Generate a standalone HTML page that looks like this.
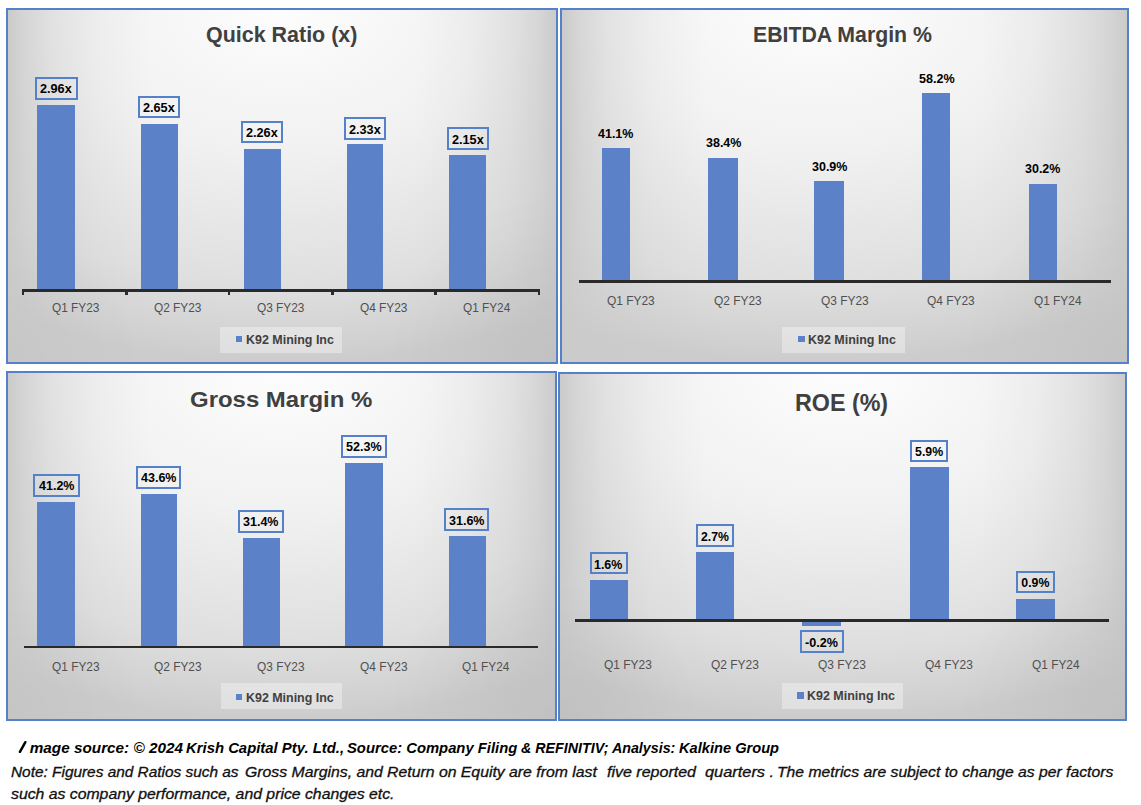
<!DOCTYPE html>
<html><head><meta charset="utf-8"><style>
html,body{margin:0;padding:0;background:#fff;width:1141px;height:805px;overflow:hidden;}
body{position:relative;font-family:"Liberation Sans",sans-serif;}
.p{position:absolute;box-sizing:border-box;border:2px solid #5580CA;}
.r{position:absolute;}
.t{position:absolute;white-space:nowrap;transform-origin:0 0;}
</style></head><body>
<div class="p" style="left:6px;top:8px;width:552px;height:356px;background:radial-gradient(circle 170px at 100% 100%, rgba(0,0,0,0.05), rgba(0,0,0,0)),radial-gradient(circle 140px at 0% 100%, rgba(0,0,0,0.025), rgba(0,0,0,0)),linear-gradient(to right,rgba(203,203,203,1) 0%,rgba(203,203,203,0.7) 3%,rgba(203,203,203,0.4) 8%,rgba(203,203,203,0.15) 16%,rgba(203,203,203,0) 26%,rgba(203,203,203,0) 74%,rgba(203,203,203,0.15) 84%,rgba(203,203,203,0.4) 92%,rgba(203,203,203,0.7) 97%,rgba(203,203,203,1) 100%),radial-gradient(ellipse 100% 100% at 50% 0%, #fdfdfd 0%, #f1f1f1 40%, #dfdfdf 78%, #d1d1d1 95%, #cccccc 100%)"></div>
<div class="p" style="left:560px;top:8px;width:569px;height:356px;background:radial-gradient(circle 170px at 100% 100%, rgba(0,0,0,0.04), rgba(0,0,0,0)),radial-gradient(circle 140px at 0% 100%, rgba(0,0,0,0.0), rgba(0,0,0,0)),linear-gradient(to right,rgba(203,203,203,1) 0%,rgba(203,203,203,0.7) 3%,rgba(203,203,203,0.4) 8%,rgba(203,203,203,0.15) 16%,rgba(203,203,203,0) 26%,rgba(203,203,203,0) 74%,rgba(203,203,203,0.15) 84%,rgba(203,203,203,0.4) 92%,rgba(203,203,203,0.7) 97%,rgba(203,203,203,1) 100%),radial-gradient(ellipse 100% 100% at 45% 0%, #fdfdfd 0%, #f1f1f1 40%, #dfdfdf 78%, #d1d1d1 95%, #cccccc 100%)"></div>
<div class="p" style="left:6px;top:371px;width:551px;height:350px;background:radial-gradient(circle 170px at 100% 100%, rgba(0,0,0,0.05), rgba(0,0,0,0)),radial-gradient(circle 140px at 0% 100%, rgba(0,0,0,0.03), rgba(0,0,0,0)),linear-gradient(to right,rgba(203,203,203,1) 0%,rgba(203,203,203,0.7) 3%,rgba(203,203,203,0.4) 8%,rgba(203,203,203,0.15) 16%,rgba(203,203,203,0) 26%,rgba(203,203,203,0) 74%,rgba(203,203,203,0.15) 84%,rgba(203,203,203,0.4) 92%,rgba(203,203,203,0.7) 97%,rgba(203,203,203,1) 100%),radial-gradient(ellipse 100% 100% at 50% 0%, #fdfdfd 0%, #f1f1f1 40%, #dfdfdf 78%, #d1d1d1 95%, #cccccc 100%)"></div>
<div class="p" style="left:558px;top:372px;width:569px;height:349px;background:radial-gradient(circle 170px at 100% 100%, rgba(0,0,0,0.05), rgba(0,0,0,0)),radial-gradient(circle 140px at 0% 100%, rgba(0,0,0,0.055), rgba(0,0,0,0)),linear-gradient(to right,rgba(203,203,203,1) 0%,rgba(203,203,203,0.7) 3%,rgba(203,203,203,0.4) 8%,rgba(203,203,203,0.15) 16%,rgba(203,203,203,0) 26%,rgba(203,203,203,0) 74%,rgba(203,203,203,0.15) 84%,rgba(203,203,203,0.4) 92%,rgba(203,203,203,0.7) 97%,rgba(203,203,203,1) 100%),radial-gradient(ellipse 100% 100% at 50% 0%, #fdfdfd 0%, #f1f1f1 40%, #dfdfdf 78%, #d1d1d1 95%, #cccccc 100%)"></div>
<div class="r" style="left:37.30px;top:104.80px;width:37.60px;height:185.10px;background:#5B82C8;"></div>
<div class="r" style="left:140.70px;top:123.60px;width:37.40px;height:166.30px;background:#5B82C8;"></div>
<div class="r" style="left:243.60px;top:148.60px;width:37.90px;height:141.30px;background:#5B82C8;"></div>
<div class="r" style="left:347.00px;top:143.70px;width:35.90px;height:146.20px;background:#5B82C8;"></div>
<div class="r" style="left:448.50px;top:154.70px;width:37.40px;height:135.20px;background:#5B82C8;"></div>
<div class="r" style="left:22.50px;top:289.40px;width:517.30px;height:2.80px;background:#2a2a2a;"></div>
<div class="r" style="left:21.70px;top:289.40px;width:2.20px;height:5.80px;background:#2a2a2a;"></div>
<div class="r" style="left:125.40px;top:289.40px;width:2.20px;height:5.80px;background:#2a2a2a;"></div>
<div class="r" style="left:228.30px;top:289.40px;width:2.20px;height:5.80px;background:#2a2a2a;"></div>
<div class="r" style="left:331.40px;top:289.40px;width:2.20px;height:5.80px;background:#2a2a2a;"></div>
<div class="r" style="left:434.40px;top:289.40px;width:2.20px;height:5.80px;background:#2a2a2a;"></div>
<div class="r" style="left:538.00px;top:289.40px;width:2.20px;height:5.80px;background:#2a2a2a;"></div>
<div class="r" style="left:34.70px;top:77.00px;width:43.10px;height:22.50px;box-sizing:border-box;border:2px solid #5580CA;background:transparent"></div>
<div class="r" style="left:137.90px;top:95.70px;width:41.90px;height:22.70px;box-sizing:border-box;border:2px solid #5580CA;background:transparent"></div>
<div class="r" style="left:241.20px;top:120.50px;width:41.40px;height:22.90px;box-sizing:border-box;border:2px solid #5580CA;background:transparent"></div>
<div class="r" style="left:343.90px;top:117.30px;width:41.80px;height:22.90px;box-sizing:border-box;border:2px solid #5580CA;background:transparent"></div>
<div class="r" style="left:447.20px;top:126.70px;width:41.70px;height:23.10px;box-sizing:border-box;border:2px solid #5580CA;background:transparent"></div>
<div class="r" style="left:220.30px;top:326.90px;width:122.10px;height:26.00px;background:rgba(255,255,255,0.35);"></div>
<div class="r" style="left:235.90px;top:335.90px;width:6.50px;height:6.50px;background:#5B82C8;"></div>
<div class="r" style="left:601.50px;top:148.30px;width:28.50px;height:132.10px;background:#5B82C8;"></div>
<div class="r" style="left:708.00px;top:157.70px;width:29.70px;height:122.70px;background:#5B82C8;"></div>
<div class="r" style="left:814.20px;top:180.90px;width:29.80px;height:99.50px;background:#5B82C8;"></div>
<div class="r" style="left:922.00px;top:93.30px;width:28.40px;height:187.10px;background:#5B82C8;"></div>
<div class="r" style="left:1028.50px;top:183.90px;width:28.20px;height:96.50px;background:#5B82C8;"></div>
<div class="r" style="left:578.80px;top:279.90px;width:532.60px;height:2.80px;background:#2a2a2a;"></div>
<div class="r" style="left:781.70px;top:326.90px;width:123.00px;height:26.20px;background:rgba(255,255,255,0.35);"></div>
<div class="r" style="left:798.40px;top:335.90px;width:6.50px;height:6.50px;background:#5B82C8;"></div>
<div class="r" style="left:37.30px;top:501.80px;width:37.60px;height:144.20px;background:#5B82C8;"></div>
<div class="r" style="left:140.60px;top:493.70px;width:36.00px;height:152.30px;background:#5B82C8;"></div>
<div class="r" style="left:242.60px;top:537.70px;width:37.30px;height:108.30px;background:#5B82C8;"></div>
<div class="r" style="left:345.20px;top:462.60px;width:37.80px;height:183.40px;background:#5B82C8;"></div>
<div class="r" style="left:448.70px;top:536.00px;width:37.40px;height:110.00px;background:#5B82C8;"></div>
<div class="r" style="left:23.50px;top:645.50px;width:514.00px;height:2.80px;background:#2a2a2a;"></div>
<div class="r" style="left:32.90px;top:473.90px;width:46.70px;height:22.90px;box-sizing:border-box;border:2px solid #5580CA;background:transparent"></div>
<div class="r" style="left:136.30px;top:466.00px;width:44.90px;height:22.90px;box-sizing:border-box;border:2px solid #5580CA;background:transparent"></div>
<div class="r" style="left:237.80px;top:510.00px;width:46.60px;height:22.50px;box-sizing:border-box;border:2px solid #5580CA;background:transparent"></div>
<div class="r" style="left:340.70px;top:434.70px;width:46.70px;height:23.00px;box-sizing:border-box;border:2px solid #5580CA;background:transparent"></div>
<div class="r" style="left:444.20px;top:508.10px;width:44.90px;height:23.20px;box-sizing:border-box;border:2px solid #5580CA;background:transparent"></div>
<div class="r" style="left:220.80px;top:683.40px;width:121.60px;height:26.00px;background:rgba(255,255,255,0.35);"></div>
<div class="r" style="left:235.90px;top:693.80px;width:6.50px;height:6.50px;background:#5B82C8;"></div>
<div class="r" style="left:589.60px;top:579.80px;width:38.80px;height:39.80px;background:#5B82C8;"></div>
<div class="r" style="left:695.60px;top:551.80px;width:38.80px;height:67.80px;background:#5B82C8;"></div>
<div class="r" style="left:909.50px;top:467.30px;width:39.20px;height:152.30px;background:#5B82C8;"></div>
<div class="r" style="left:1016.00px;top:598.60px;width:38.80px;height:21.00px;background:#5B82C8;"></div>
<div class="r" style="left:801.90px;top:621.60px;width:39.30px;height:4.00px;background:#5B82C8;"></div>
<div class="r" style="left:575.40px;top:619.10px;width:534.10px;height:2.80px;background:#2a2a2a;"></div>
<div class="r" style="left:589.50px;top:552.30px;width:38.60px;height:22.10px;box-sizing:border-box;border:2px solid #5580CA;background:transparent"></div>
<div class="r" style="left:696.00px;top:524.00px;width:38.30px;height:22.50px;box-sizing:border-box;border:2px solid #5580CA;background:transparent"></div>
<div class="r" style="left:800.20px;top:630.30px;width:43.40px;height:22.60px;box-sizing:border-box;border:2px solid #5580CA;background:transparent"></div>
<div class="r" style="left:909.90px;top:439.90px;width:38.50px;height:22.10px;box-sizing:border-box;border:2px solid #5580CA;background:transparent"></div>
<div class="r" style="left:1016.00px;top:571.30px;width:38.80px;height:21.70px;box-sizing:border-box;border:2px solid #5580CA;background:transparent"></div>
<div class="r" style="left:781.70px;top:683.30px;width:121.40px;height:26.00px;background:rgba(255,255,255,0.35);"></div>
<div class="r" style="left:797.00px;top:692.40px;width:6.50px;height:6.50px;background:#5B82C8;"></div>
<svg style="position:absolute;left:0;top:0" width="40" height="805"><line x1="25.4" y1="742.2" x2="19.9" y2="751.8" stroke="#000" stroke-width="2.5" stroke-linecap="round"/></svg>
<div class="t" style="left:205.95px;top:22.50px;font-size:21.5px;line-height:24px;font-weight:700;color:#404040;transform:scaleX(0.9980);">Quick Ratio (x)</div>
<div class="t" style="left:40.15px;top:81.30px;font-size:12.8px;line-height:15px;font-weight:700;color:#000;transform:scaleX(0.9905);">2.96x</div>
<div class="t" style="left:142.75px;top:100.20px;font-size:12.8px;line-height:15px;font-weight:700;color:#000;transform:scaleX(0.9905);">2.65x</div>
<div class="t" style="left:245.80px;top:125.20px;font-size:12.8px;line-height:15px;font-weight:700;color:#000;transform:scaleX(0.9905);">2.26x</div>
<div class="t" style="left:348.70px;top:122.00px;font-size:12.8px;line-height:15px;font-weight:700;color:#000;transform:scaleX(0.9905);">2.33x</div>
<div class="t" style="left:451.95px;top:131.60px;font-size:12.8px;line-height:15px;font-weight:700;color:#000;transform:scaleX(0.9905);">2.15x</div>
<div class="t" style="left:51.67px;top:301.20px;font-size:12.3px;line-height:14px;color:#505050;transform:scaleX(0.9637);">Q1 FY23</div>
<div class="t" style="left:154.47px;top:301.20px;font-size:12.3px;line-height:14px;color:#505050;transform:scaleX(0.9637);">Q2 FY23</div>
<div class="t" style="left:257.27px;top:301.20px;font-size:12.3px;line-height:14px;color:#505050;transform:scaleX(0.9637);">Q3 FY23</div>
<div class="t" style="left:360.27px;top:301.20px;font-size:12.3px;line-height:14px;color:#505050;transform:scaleX(0.9637);">Q4 FY23</div>
<div class="t" style="left:463.27px;top:301.20px;font-size:12.3px;line-height:14px;color:#505050;transform:scaleX(0.9588);">Q1 FY24</div>
<div class="t" style="left:245.59px;top:331.80px;font-size:13.2px;line-height:15px;font-weight:700;color:#404040;transform:scaleX(0.9446);">K92 Mining Inc</div>
<div class="t" style="left:753.12px;top:22.50px;font-size:21.5px;line-height:24px;font-weight:700;color:#404040;transform:scaleX(0.9900);">EBITDA Margin %</div>
<div class="t" style="left:598.41px;top:125.60px;font-size:13.0px;line-height:15px;font-weight:700;color:#000;transform:scaleX(0.9600);">41.1%</div>
<div class="t" style="left:705.51px;top:135.10px;font-size:13.0px;line-height:15px;font-weight:700;color:#000;transform:scaleX(0.9600);">38.4%</div>
<div class="t" style="left:811.76px;top:158.90px;font-size:13.0px;line-height:15px;font-weight:700;color:#000;transform:scaleX(0.9600);">30.9%</div>
<div class="t" style="left:918.62px;top:71.30px;font-size:13.0px;line-height:15px;font-weight:700;color:#000;transform:scaleX(0.9667);">58.2%</div>
<div class="t" style="left:1025.26px;top:161.40px;font-size:13.0px;line-height:15px;font-weight:700;color:#000;transform:scaleX(0.9600);">30.2%</div>
<div class="t" style="left:607.12px;top:294.00px;font-size:12.3px;line-height:14px;color:#505050;transform:scaleX(0.9699);">Q1 FY23</div>
<div class="t" style="left:714.32px;top:294.00px;font-size:12.3px;line-height:14px;color:#505050;transform:scaleX(0.9699);">Q2 FY23</div>
<div class="t" style="left:821.12px;top:294.00px;font-size:12.3px;line-height:14px;color:#505050;transform:scaleX(0.9699);">Q3 FY23</div>
<div class="t" style="left:927.12px;top:294.00px;font-size:12.3px;line-height:14px;color:#505050;transform:scaleX(0.9699);">Q4 FY23</div>
<div class="t" style="left:1034.02px;top:294.00px;font-size:12.3px;line-height:14px;color:#505050;transform:scaleX(0.9649);">Q1 FY24</div>
<div class="t" style="left:807.69px;top:331.80px;font-size:13.2px;line-height:15px;font-weight:700;color:#404040;transform:scaleX(0.9446);">K92 Mining Inc</div>
<div class="t" style="left:189.61px;top:387.20px;font-size:22px;line-height:25px;font-weight:700;color:#404040;transform:scaleX(1.0886);">Gross Margin %</div>
<div class="t" style="left:38.50px;top:479.20px;font-size:12.6px;line-height:14px;font-weight:700;color:#000;transform:scaleX(0.9929);">41.2%</div>
<div class="t" style="left:141.00px;top:471.30px;font-size:12.6px;line-height:14px;font-weight:700;color:#000;transform:scaleX(0.9929);">43.6%</div>
<div class="t" style="left:243.35px;top:514.90px;font-size:12.6px;line-height:14px;font-weight:700;color:#000;transform:scaleX(0.9929);">31.4%</div>
<div class="t" style="left:346.05px;top:440.10px;font-size:12.6px;line-height:14px;font-weight:700;color:#000;">52.3%</div>
<div class="t" style="left:448.90px;top:513.70px;font-size:12.6px;line-height:14px;font-weight:700;color:#000;transform:scaleX(0.9929);">31.6%</div>
<div class="t" style="left:51.52px;top:659.90px;font-size:12.3px;line-height:14px;color:#505050;transform:scaleX(0.9658);">Q1 FY23</div>
<div class="t" style="left:154.22px;top:659.90px;font-size:12.3px;line-height:14px;color:#505050;transform:scaleX(0.9658);">Q2 FY23</div>
<div class="t" style="left:256.92px;top:659.90px;font-size:12.3px;line-height:14px;color:#505050;transform:scaleX(0.9658);">Q3 FY23</div>
<div class="t" style="left:359.72px;top:659.90px;font-size:12.3px;line-height:14px;color:#505050;transform:scaleX(0.9658);">Q4 FY23</div>
<div class="t" style="left:462.32px;top:659.90px;font-size:12.3px;line-height:14px;color:#505050;transform:scaleX(0.9608);">Q1 FY24</div>
<div class="t" style="left:245.59px;top:689.60px;font-size:13.2px;line-height:15px;font-weight:700;color:#404040;transform:scaleX(0.9424);">K92 Mining Inc</div>
<div class="t" style="left:795.37px;top:388.80px;font-size:24.5px;line-height:27px;font-weight:700;color:#404040;transform:scaleX(0.9501);">ROE (%)</div>
<div class="t" style="left:594.39px;top:557.60px;font-size:12.3px;line-height:14px;font-weight:700;color:#000;transform:scaleX(1.0111);">1.6%</div>
<div class="t" style="left:701.10px;top:529.70px;font-size:12.3px;line-height:14px;font-weight:700;color:#000;transform:scaleX(0.9945);">2.7%</div>
<div class="t" style="left:805.39px;top:636.10px;font-size:12.3px;line-height:14px;font-weight:700;color:#000;transform:scaleX(1.0240);">-0.2%</div>
<div class="t" style="left:915.05px;top:445.20px;font-size:12.3px;line-height:14px;font-weight:700;color:#000;">5.9%</div>
<div class="t" style="left:1021.30px;top:576.20px;font-size:12.3px;line-height:14px;font-weight:700;color:#000;">0.9%</div>
<div class="t" style="left:604.36px;top:657.80px;font-size:12.3px;line-height:14px;color:#505050;transform:scaleX(0.9720);">Q1 FY23</div>
<div class="t" style="left:711.16px;top:657.80px;font-size:12.3px;line-height:14px;color:#505050;transform:scaleX(0.9720);">Q2 FY23</div>
<div class="t" style="left:818.06px;top:657.80px;font-size:12.3px;line-height:14px;color:#505050;transform:scaleX(0.9720);">Q3 FY23</div>
<div class="t" style="left:925.26px;top:657.80px;font-size:12.3px;line-height:14px;color:#505050;transform:scaleX(0.9720);">Q4 FY23</div>
<div class="t" style="left:1031.57px;top:657.80px;font-size:12.3px;line-height:14px;color:#505050;transform:scaleX(0.9670);">Q1 FY24</div>
<div class="t" style="left:806.69px;top:688.20px;font-size:13.2px;line-height:15px;font-weight:700;color:#404040;transform:scaleX(0.9457);">K92 Mining Inc</div>
<div class="t" style="left:29.75px;top:739.10px;font-size:15.3px;line-height:17px;font-weight:700;font-style:italic;color:#000;">mage source: © 2024</div>
<div class="t" style="left:186.16px;top:739.10px;font-size:15.3px;line-height:17px;font-weight:700;font-style:italic;color:#000;transform:scaleX(0.9720);">Krish Capital Pty. Ltd.,</div>
<div class="t" style="left:347.26px;top:739.10px;font-size:15.3px;line-height:17px;font-weight:700;font-style:italic;color:#000;transform:scaleX(0.9675);">Source: Company Filing</div>
<div class="t" style="left:520.87px;top:739.10px;font-size:15.3px;line-height:17px;font-weight:700;font-style:italic;color:#000;transform:scaleX(0.9327);">&amp; REFINITIV; Analysis:</div>
<div class="t" style="left:679.26px;top:739.10px;font-size:15.3px;line-height:17px;font-weight:700;font-style:italic;color:#000;transform:scaleX(0.9571);">Kalkine Group</div>
<div class="t" style="left:10.85px;top:763.50px;font-size:14px;line-height:16px;font-style:italic;color:#111;transform:scaleX(1.0992);-webkit-text-stroke:0.3px #111;">Note: Figures and Ratios such as</div>
<div class="t" style="left:245.15px;top:763.50px;font-size:14px;line-height:16px;font-style:italic;color:#111;transform:scaleX(1.1275);-webkit-text-stroke:0.3px #111;">Gross Margins, and Return on Equity are from last</div>
<div class="t" style="left:607.13px;top:763.50px;font-size:14px;line-height:16px;font-style:italic;color:#111;transform:scaleX(1.1434);-webkit-text-stroke:0.3px #111;">five reported</div>
<div class="t" style="left:705.12px;top:763.50px;font-size:14px;line-height:16px;font-style:italic;color:#111;transform:scaleX(1.1684);-webkit-text-stroke:0.3px #111;">quarters .</div>
<div class="t" style="left:777.00px;top:763.50px;font-size:14px;line-height:16px;font-style:italic;color:#111;transform:scaleX(1.1225);-webkit-text-stroke:0.3px #111;">The metrics are subject to change as per factors</div>
<div class="t" style="left:11.40px;top:786.30px;font-size:14px;line-height:16px;font-style:italic;color:#111;transform:scaleX(1.1276);-webkit-text-stroke:0.3px #111;">such as company performance, and price changes etc.</div>
</body></html>
